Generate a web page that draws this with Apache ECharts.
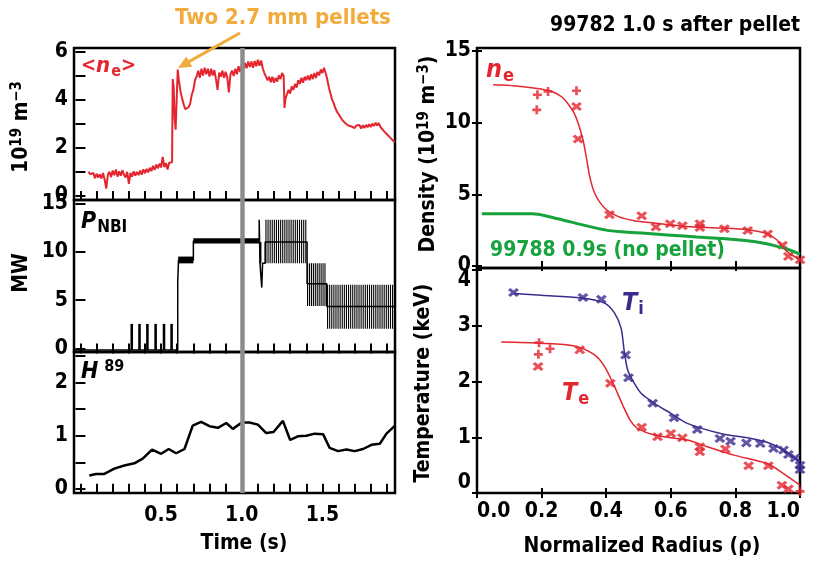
<!DOCTYPE html>
<html><head><meta charset="utf-8">
<script src="https://cdn.jsdelivr.net/npm/echarts@6/dist/echarts.min.js"></script>
<style>html,body{margin:0;padding:0;background:#fff}#c{width:814px;height:562px}</style>
</head><body><div id="c"></div>
<script>
const FONT = '"Liberation Sans Narrow","DejaVu Sans Condensed","Liberation Sans",Arial,sans-serif';
const RED = '#e3262f', GREEN = '#17a33b', PURPLE = '#3b2b8d', ORANGE = '#f2aa3a', GRAY = '#8c8c8c';

// ---------- left column: time traces ----------
const neTrace = [[0.05,1.00],[0.06,0.90],[0.07,0.82],[0.08,0.95],[0.09,0.74],[0.10,0.92],[0.11,0.76],[0.12,0.90],[0.13,0.72],[0.14,0.95],[0.15,0.68],[0.16,0.30],[0.17,0.88],[0.18,1.00],[0.19,0.78],[0.20,1.05],[0.21,0.86],[0.22,1.10],[0.23,0.80],[0.24,1.02],[0.25,0.84],[0.26,1.06],[0.27,0.88],[0.28,0.76],[0.29,1.00],[0.30,0.50],[0.31,0.95],[0.32,0.80],[0.33,1.02],[0.34,0.84],[0.35,1.00],[0.36,0.86],[0.37,1.05],[0.38,0.88],[0.39,1.10],[0.40,0.94],[0.41,1.12],[0.42,0.98],[0.43,1.17],[0.44,1.03],[0.45,1.25],[0.46,1.08],[0.47,1.30],[0.48,1.14],[0.49,1.34],[0.50,1.18],[0.51,1.62],[0.52,1.20],[0.53,1.36],[0.54,1.10],[0.55,1.38],[0.56,1.30],[0.568,1.40],[0.572,4.85],[0.578,4.50],[0.584,3.20],[0.59,2.75],[0.596,3.90],[0.603,5.25],[0.61,4.80],[0.62,4.35],[0.63,4.05],[0.64,3.80],[0.65,3.60],[0.66,3.52],[0.67,3.68],[0.68,3.82],[0.69,4.20],[0.70,4.40],[0.71,4.80],[0.72,4.95],[0.73,5.20],[0.74,4.90],[0.75,5.28],[0.76,5.00],[0.77,5.32],[0.78,5.05],[0.79,5.28],[0.80,4.95],[0.81,5.28],[0.82,5.00],[0.83,5.22],[0.84,4.85],[0.85,4.40],[0.86,5.12],[0.87,4.95],[0.88,5.20],[0.89,4.90],[0.90,5.15],[0.91,4.92],[0.92,4.30],[0.93,5.05],[0.94,5.20],[0.95,4.98],[0.96,5.28],[0.97,5.05],[0.98,5.38],[0.99,5.15],[1.00,5.45],[1.01,5.25],[1.02,5.52],[1.03,5.30],[1.04,5.58],[1.05,5.35],[1.06,5.58],[1.07,5.32],[1.08,5.60],[1.09,5.38],[1.10,5.65],[1.11,5.40],[1.12,5.62],[1.13,5.30],[1.14,5.10],[1.15,4.95],[1.16,4.80],[1.17,4.95],[1.18,4.72],[1.19,4.95],[1.20,4.70],[1.21,4.90],[1.22,4.75],[1.23,5.00],[1.24,4.85],[1.25,5.10],[1.26,4.98],[1.265,3.65],[1.27,4.00],[1.28,4.22],[1.29,4.40],[1.30,4.25],[1.31,4.55],[1.32,4.40],[1.33,4.65],[1.34,4.50],[1.35,4.80],[1.36,4.65],[1.37,4.90],[1.38,4.70],[1.39,4.95],[1.40,4.80],[1.41,5.00],[1.42,4.80],[1.43,5.05],[1.44,4.85],[1.45,5.10],[1.46,4.90],[1.47,5.15],[1.48,5.00],[1.49,5.25],[1.50,5.10],[1.51,5.32],[1.52,5.10],[1.53,4.85],[1.54,4.50],[1.55,4.25],[1.56,4.00],[1.57,3.85],[1.58,3.65],[1.59,3.50],[1.60,3.40],[1.61,3.32],[1.62,3.18],[1.63,3.17],[1.64,3.03],[1.65,3.02],[1.66,2.92],[1.67,2.94],[1.68,2.88],[1.69,2.92],[1.70,2.82],[1.71,2.92],[1.72,2.84],[1.73,2.94],[1.74,2.80],[1.75,2.93],[1.76,2.82],[1.77,2.95],[1.78,2.85],[1.79,2.98],[1.80,2.86],[1.81,3.00],[1.82,2.90],[1.83,3.04],[1.84,2.92],[1.85,3.02],[1.86,2.86],[1.87,2.82],[1.88,2.70],[1.89,2.68],[1.90,2.56],[1.91,2.52],[1.92,2.42],[1.93,2.38],[1.94,2.28],[1.95,2.25]];

const h89Trace = [[0.055,0.25],[0.096,0.28],[0.148,0.28],[0.21,0.38],[0.272,0.44],[0.334,0.48],[0.386,0.57],[0.444,0.74],[0.50,0.66],[0.547,0.75],[0.593,0.67],[0.645,0.75],[0.696,1.19],[0.748,1.26],[0.80,1.18],[0.852,1.15],[0.904,1.24],[0.945,1.13],[1.00,1.25],[1.048,1.25],[1.10,1.21],[1.152,1.05],[1.197,1.07],[1.255,1.28],[1.30,0.92],[1.348,0.99],[1.40,1.00],[1.452,1.04],[1.504,1.03],[1.545,0.77],[1.597,0.71],[1.649,0.74],[1.70,0.71],[1.752,0.75],[1.804,0.83],[1.856,0.85],[1.897,1.04],[1.95,1.19]];

// NBI power: main step trace [t, MW]
const nbiTrace = [[-0.04,-0.15],[0.603,-0.15],[0.603,6.9],[0.608,6.9],[0.608,9.15],[0.700,9.15],[0.700,11.1],[1.108,11.1],[1.108,13.3],[1.113,13.3],[1.113,8.8],[1.124,8.8],[1.124,6.3],[1.129,6.3],[1.129,8.8],[1.145,8.8],[1.145,11.0],[1.405,11.0],[1.405,6.7],[1.527,6.7],[1.527,4.35],[1.945,4.35]];
// filled blocks [tStart, tEnd, low, high]
const nbiBlocks = [[0.310,0.326,-0.15,2.55],[0.358,0.374,-0.15,2.55],[0.407,0.423,-0.15,2.55],[0.458,0.474,-0.15,2.55],[0.510,0.526,-0.15,2.55],[0.557,0.573,-0.15,2.55],[0.606,0.700,8.8,9.5],[0.700,1.108,10.85,11.4],[1.110,1.122,8.8,11.0]];
// beam modulation strokes: times and [low, high]
const nbiMod1Time = [1.150,1.163,1.176,1.189,1.202,1.215,1.228,1.241,1.254,1.267,1.280,1.293,1.306,1.319,1.332,1.345,1.358,1.371,1.384,1.397];
const nbiMod1Range = [8.8,13.3];
const nbiMod2Time = [1.408,1.420,1.432,1.444,1.456,1.468,1.480,1.492,1.504,1.516];
const nbiMod2Range = [4.4,8.8];
const nbiMod3Time = [1.532,1.545,1.558,1.571,1.584,1.597,1.610,1.623,1.636,1.649,1.662,1.675,1.688,1.701,1.714,1.727,1.740,1.753,1.766,1.779,1.792,1.805,1.818,1.831,1.844,1.857,1.870,1.883,1.896,1.909,1.922,1.935];
const nbiMod3Range = [2.05,6.6];

// ---------- right column: profiles vs rho ----------
const neFit = [[0.05,12.63],[0.12,12.55],[0.18,12.4],[0.231,12.17],[0.262,11.8],[0.282,11.3],[0.30,10.7],[0.313,9.97],[0.328,8.8],[0.338,7.64],[0.349,6.24],[0.364,5.09],[0.395,4.04],[0.436,3.46],[0.487,3.16],[0.549,3.0],[0.651,2.76],[0.754,2.65],[0.836,2.53],[0.898,2.25],[0.928,1.83],[0.959,1.02],[1.0,0.44]];
const nePlus = [[0.187,11.94],[0.185,10.89],[0.22,12.17],[0.308,12.22]];
const neCross = [[0.308,11.12],[0.313,8.85],[0.41,3.57],[0.51,3.5],[0.554,2.72],[0.598,2.95],[0.636,2.81],[0.69,2.95],[0.69,2.69],[0.766,2.6],[0.838,2.48],[0.9,2.23],[0.946,1.44],[0.964,0.67],[1.0,0.44]];
const neNoPellet = [[0.015,3.64],[0.17,3.64],[0.25,3.3],[0.33,2.85],[0.40,2.5],[0.45,2.38],[0.52,2.28],[0.60,2.15],[0.68,2.02],[0.76,1.92],[0.83,1.78],[0.88,1.62],[0.93,1.37],[0.97,1.1],[1.0,0.82]];

const tiFit = [[0.113,3.58],[0.2,3.55],[0.323,3.5],[0.395,3.41],[0.426,3.23],[0.446,2.96],[0.456,2.54],[0.467,2.2],[0.487,1.97],[0.508,1.79],[0.549,1.61],[0.6,1.43],[0.651,1.25],[0.754,1.07],[0.856,0.97],[0.908,0.89],[0.949,0.77],[1.0,0.56]];
const tiCross = [[0.113,3.6],[0.328,3.51],[0.385,3.48],[0.46,2.48],[0.469,2.07],[0.544,1.61],[0.61,1.35],[0.682,1.14],[0.752,0.98],[0.785,0.93],[0.834,0.9],[0.877,0.89],[0.918,0.8],[0.949,0.77],[0.964,0.69],[0.985,0.63],[1.0,0.5],[1.0,0.42]];
const teFit = [[0.075,2.71],[0.2,2.69],[0.302,2.64],[0.364,2.48],[0.395,2.27],[0.426,1.91],[0.451,1.58],[0.477,1.28],[0.497,1.16],[0.549,1.04],[0.651,0.95],[0.713,0.83],[0.795,0.68],[0.898,0.53],[0.949,0.35],[1.0,0.14]];
const tePlus = [[0.192,2.7],[0.19,2.49],[0.226,2.59],[1.0,0.03]];
const teCross = [[0.189,2.27],[0.318,2.57],[0.413,1.97],[0.51,1.18],[0.559,1.01],[0.6,1.07],[0.636,0.99],[0.69,0.83],[0.69,0.74],[0.769,0.79],[0.841,0.49],[0.902,0.49],[0.944,0.14],[0.964,0.07]];

// tick / label values
const timeTicks = [0.0,0.1,0.2,0.3,0.4,0.5,0.6,0.7,0.8,0.9,1.0,1.1,1.2,1.3,1.4,1.5,1.6,1.7,1.8,1.9];
const timeLabels = [0.5,1.0,1.5];
const rhoTicks = [0.0,0.2,0.4,0.6,0.8,1.0];
const neTicks = [0,1,2,3,4,5,6], neLabels = [0,2,4,6];
const nbiTicks = [0,5,10,15];
const hTicks = [0,0.5,1,1.5,2,2.5], hLabels = [0,1,2];
const densTicks = [0,5,10,15];
const tempTicks = [0,1,2,3,4];
const pelletTime = 1.0;

const CROSS = 'path://M0,2.2L2.2,0L5,2.8L7.8,0L10,2.2L7.2,5L10,7.8L7.8,10L5,7.2L2.2,10L0,7.8L2.8,5Z';
const PLUS = 'path://M3.5,0H6.5V3.5H10V6.5H6.5V10H3.5V6.5H0V3.5H3.5Z';

const LBL = {fontFamily: FONT, fontWeight: 'bold', fontSize: 21, color: '#000'};
const tickStyle = {inside: true, length: 5, lineStyle: {color: '#000', width: 2}};

function xAx(grid, pos, min, max, ticks, labels, fmt, margin, extra) {
  return {type: 'value', gridIndex: grid, position: pos, min, max,
    axisLine: {show: false}, splitLine: {show: false},
    axisTick: Object.assign({customValues: ticks}, tickStyle),
    axisLabel: labels ? Object.assign({customValues: labels, margin, formatter: fmt}, LBL, extra || {}) : {show: false}};
}
function yAx(grid, pos, min, max, ticks, labels, extra) {
  return {type: 'value', gridIndex: grid, position: pos, min, max,
    axisLine: {show: false}, splitLine: {show: false},
    axisTick: Object.assign({customValues: ticks}, tickStyle),
    axisLabel: labels ? Object.assign({customValues: labels, margin: 6}, LBL, extra || {}) : {show: false}};
}
const f1 = v => v.toFixed(1);

const gridBase = {show: true, borderColor: '#000', borderWidth: 2.5, backgroundColor: 'transparent', containLabel: false, outerBoundsMode: 'none'};
const grids = [
  Object.assign({left: 74, right: 419, top: 48, height: 152}, gridBase),
  Object.assign({left: 74, right: 419, top: 200, height: 152}, gridBase),
  Object.assign({left: 74, right: 419, top: 352, height: 141}, gridBase),
  Object.assign({left: 477, right: 14, top: 48, height: 220}, gridBase),
  Object.assign({left: 477, right: 14, top: 268, height: 225}, gridBase)
];
const TMIN = -0.04, TMAX = 1.95;
const xAxes = [
  xAx(0,'bottom',TMIN,TMAX,timeTicks), xAx(0,'top',TMIN,TMAX,timeTicks),
  xAx(1,'bottom',TMIN,TMAX,timeTicks), xAx(1,'top',TMIN,TMAX,timeTicks),
  xAx(2,'bottom',TMIN,TMAX,timeTicks,timeLabels,f1,12), xAx(2,'top',TMIN,TMAX,timeTicks),
  xAx(3,'bottom',0,1,rhoTicks), xAx(3,'top',0,1,rhoTicks),
  xAx(4,'bottom',0,1,rhoTicks,rhoTicks,f1,8,{alignMinLabel: 'left', alignMaxLabel: 'right'}), xAx(4,'top',0,1,rhoTicks)
];
const yAxes = [
  yAx(0,'left',-0.17,6.14,neTicks,neLabels), yAx(0,'right',-0.17,6.14,neTicks),
  yAx(1,'left',-0.35,15.34,nbiTicks,nbiTicks), yAx(1,'right',-0.35,15.34,nbiTicks),
  yAx(2,'left',-0.08,2.58,hTicks,hLabels), yAx(2,'right',-0.08,2.58,hTicks),
  yAx(3,'left',-0.14,15.2,densTicks,densTicks), yAx(3,'right',-0.14,15.2,densTicks),
  yAx(4,'left',0,4.04,tempTicks,tempTicks,{verticalAlignMinLabel: 'bottom', verticalAlignMaxLabel: 'top'}), yAx(4,'right',0,4.04,tempTicks)
];

function grayLine() {
  return {silent: true, symbol: 'none', label: {show: false}, lineStyle: {color: GRAY, width: 4.5, type: 'solid'}, data: [{xAxis: pelletTime}]};
}
function strokes(times, range) { return times.map(t => [t, range[0], range[1]]); }
const strokeData = [].concat(strokes(nbiMod1Time, nbiMod1Range), strokes(nbiMod2Time, nbiMod2Range), strokes(nbiMod3Time, nbiMod3Range));

const series = [
  {type: 'line', xAxisIndex: 0, yAxisIndex: 0, data: neTrace, showSymbol: false, lineStyle: {color: RED, width: 2}, markLine: grayLine(), animation: false},
  {type: 'line', xAxisIndex: 2, yAxisIndex: 2, data: nbiTrace, showSymbol: false, lineStyle: {color: '#000', width: 1.5}, animation: false},
  {type: 'custom', xAxisIndex: 2, yAxisIndex: 2, data: nbiBlocks, encode: {x: [0,1], y: [2,3]},
    renderItem: (p, api) => {
      const a = api.coord([api.value(0), api.value(3)]), b = api.coord([api.value(1), api.value(2)]);
      return {type: 'rect', shape: {x: a[0], y: a[1], width: b[0]-a[0], height: b[1]-a[1]}, style: {fill: '#000'}};
    }, animation: false},
  {type: 'custom', xAxisIndex: 2, yAxisIndex: 2, data: strokeData, encode: {x: 0, y: [1,2]},
    renderItem: (p, api) => {
      const a = api.coord([api.value(0), api.value(1)]), b = api.coord([api.value(0), api.value(2)]);
      return {type: 'line', shape: {x1: a[0], y1: a[1], x2: b[0], y2: b[1]}, style: {stroke: '#000', lineWidth: 1.1}};
    }, markLine: grayLine(), animation: false},
  {type: 'line', xAxisIndex: 4, yAxisIndex: 4, data: h89Trace, showSymbol: false, lineStyle: {color: '#000', width: 2.5}, markLine: grayLine(), animation: false},

  {type: 'line', xAxisIndex: 6, yAxisIndex: 6, data: neNoPellet, showSymbol: false, smooth: 0.3, lineStyle: {color: GREEN, width: 3}, animation: false},
  {type: 'line', xAxisIndex: 6, yAxisIndex: 6, data: neFit, showSymbol: false, smooth: 0.3, lineStyle: {color: RED, width: 1.5}, animation: false},
  {type: 'scatter', xAxisIndex: 6, yAxisIndex: 6, data: neCross, symbol: CROSS, symbolSize: [11,9], itemStyle: {color: RED}, animation: false},
  {type: 'scatter', xAxisIndex: 6, yAxisIndex: 6, data: nePlus, symbol: PLUS, symbolSize: [9,9], itemStyle: {color: RED}, animation: false},

  {type: 'line', xAxisIndex: 8, yAxisIndex: 8, data: tiFit, showSymbol: false, smooth: 0.3, lineStyle: {color: PURPLE, width: 1.5}, animation: false},
  {type: 'line', xAxisIndex: 8, yAxisIndex: 8, data: teFit, showSymbol: false, smooth: 0.3, lineStyle: {color: RED, width: 1.5}, animation: false},
  {type: 'scatter', xAxisIndex: 8, yAxisIndex: 8, data: tiCross, symbol: CROSS, symbolSize: [11,9], itemStyle: {color: PURPLE}, animation: false},
  {type: 'scatter', xAxisIndex: 8, yAxisIndex: 8, data: teCross, symbol: CROSS, symbolSize: [11,9], itemStyle: {color: RED}, animation: false},
  {type: 'scatter', xAxisIndex: 8, yAxisIndex: 8, data: tePlus, symbol: PLUS, symbolSize: [9,9], itemStyle: {color: RED}, animation: false}
];

const R = (size, color, style) => ({fontFamily: FONT, fontWeight: 'bold', fontSize: size, fill: color, color: color, fontStyle: style || 'normal'});
const SUB = (size, color) => Object.assign(R(size, color), {padding: [12,0,0,1]});
const SUP = (size, color) => Object.assign(R(size, color), {padding: [0,0,10,0]});

const graphic = [
  // annotation
  {type: 'text', x: 283, y: 18, z: 100, style: {text: 'Two 2.7 mm pellets', font: 'bold 22px ' + FONT, fill: ORANGE, align: 'center', verticalAlign: 'middle'}},
  {type: 'line', z: 100, shape: {x1: 240, y1: 33, x2: 189, y2: 61.6}, style: {stroke: ORANGE, lineWidth: 3}},
  {type: 'polygon', z: 100, shape: {points: [[178,68],[192.3,66.8],[186.3,56.4]]}, style: {fill: ORANGE}},
  // panel labels
  {type: 'text', x: 81, y: 66, z: 100, style: {text: '{a|<}{n|n}{s|e}{a|>}', verticalAlign: 'middle', rich: {a: R(20, RED), n: R(22, RED, 'italic'), s: SUB(16, RED)}}},
  {type: 'text', x: 81, y: 222, z: 100, style: {text: '{p|P}{s|NBI}', verticalAlign: 'middle', rich: {p: R(23, '#000', 'italic'), s: SUB(17, '#000')}}},
  {type: 'text', x: 81, y: 372, z: 100, style: {text: '{h|H}{s|89}', verticalAlign: 'middle', rich: {h: R(23, '#000', 'italic'), s: Object.assign(R(16, '#000'), {padding: [0,0,10,6]})}}},
  {type: 'text', x: 486, y: 70, z: 100, style: {text: '{n|n}{s|e}', verticalAlign: 'middle', rich: {n: R(25, RED, 'italic'), s: SUB(18, RED)}}},
  {type: 'text', x: 622, y: 303, z: 100, style: {text: '{n|T}{s|i}', verticalAlign: 'middle', rich: {n: R(25, PURPLE, 'italic'), s: SUB(18, PURPLE)}}},
  {type: 'text', x: 562, y: 393, z: 100, style: {text: '{n|T}{s|e}', verticalAlign: 'middle', rich: {n: R(25, RED, 'italic'), s: SUB(18, RED)}}},
  {type: 'text', x: 490, y: 251, z: 100, style: {text: '99788 0.9s (no pellet)', font: 'bold 21px ' + FONT, fill: GREEN, verticalAlign: 'middle'}},
  {type: 'text', x: 800, y: 26, z: 100, style: {text: '99782 1.0 s after pellet', font: 'bold 21px ' + FONT, fill: '#000', align: 'right', verticalAlign: 'middle'}},
  // axis titles
  {type: 'text', x: 22, y: 127, rotation: Math.PI/2, z: 100, style: {text: '{b|10}{u|19}{b| m}{u|−3}', align: 'center', verticalAlign: 'middle', rich: {b: R(21,'#000'), u: SUP(15,'#000')}}},
  {type: 'text', x: 22, y: 273, rotation: Math.PI/2, z: 100, style: {text: 'MW', font: 'bold 21px ' + FONT, fill: '#000', align: 'center', verticalAlign: 'middle'}},
  {type: 'text', x: 244, y: 544, z: 100, style: {text: 'Time (s)', font: 'bold 21px ' + FONT, fill: '#000', align: 'center', verticalAlign: 'middle'}},
  {type: 'text', x: 429, y: 154, rotation: Math.PI/2, z: 100, style: {text: '{b|Density (10}{u|19}{b| m}{u|−3}{b|)}', align: 'center', verticalAlign: 'middle', rich: {b: R(21,'#000'), u: SUP(15,'#000')}}},
  {type: 'text', x: 424, y: 383, rotation: Math.PI/2, z: 100, style: {text: 'Temperature (keV)', font: 'bold 21px ' + FONT, fill: '#000', align: 'center', verticalAlign: 'middle'}},
  {type: 'text', x: 642, y: 547, z: 100, style: {text: 'Normalized Radius (ρ)', font: 'bold 21px ' + FONT, fill: '#000', align: 'center', verticalAlign: 'middle'}}
];

const chart = echarts.init(document.getElementById('c'), null, {renderer: 'canvas'});
chart.setOption({animation: false, backgroundColor: '#fff', grid: grids, xAxis: xAxes, yAxis: yAxes, series, graphic});
</script></body></html>
